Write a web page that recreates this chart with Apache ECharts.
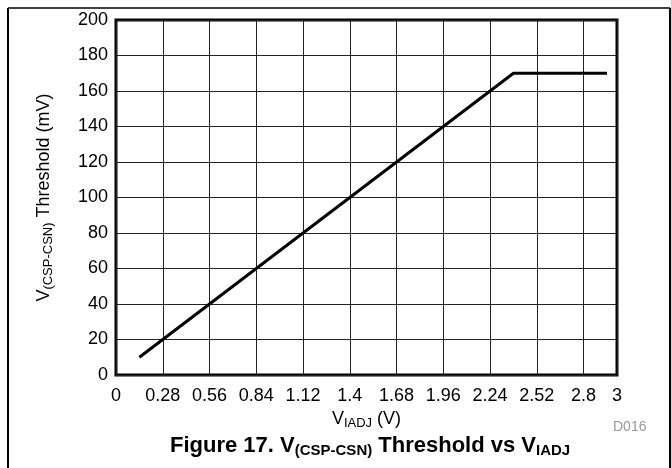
<!DOCTYPE html>
<html>
<head>
<meta charset="utf-8">
<script src="https://cdn.jsdelivr.net/npm/echarts@6/dist/echarts.min.js"></script>
<style>
  html, body { margin: 0; padding: 0; background: #fff; }
  #chart { width: 671px; height: 468px; }
</style>
</head>
<body>
<div id="chart"></div>
<script>
// threshold curve (V, mV)
var vIadj = [0.14, 2.38, 2.94];
var threshold = [10, 170, 170];

var xMin = 0, xMax = 3, xStep = 0.28;
var yMin = 0, yMax = 200, yStep = 20;

var points = vIadj.map(function (v, i) { return [v, threshold[i]]; });

var font = '"Liberation Sans", Arial, sans-serif';

var myChart = echarts.init(document.getElementById('chart'), null, { renderer: 'canvas' });

var option = {
    backgroundColor: '#fff',
    animation: false,
    grid: {
        left: 116, right: 54, top: 20, bottom: 93,
        show: true,
        borderColor: '#000',
        borderWidth: 3
    },
    xAxis: {
        type: 'value',
        min: xMin, max: xMax, interval: xStep,
        name: '{v|V}{s|IADJ}{v| (V)}',
        nameLocation: 'middle',
        nameGap: 32,
        nameTextStyle: {
            fontFamily: font, color: '#000',
            rich: {
                v: { fontSize: 18, fontFamily: font, color: '#000' },
                s: { fontSize: 13, fontFamily: font, color: '#000', padding: [9, 0, 0, 0] }
            }
        },
        axisLine: { show: false },
        axisTick: { show: false },
        axisLabel: { fontFamily: font, fontSize: 18, color: '#000', margin: 12 },
        splitLine: { show: true, lineStyle: { color: '#222', width: 1 } }
    },
    yAxis: {
        type: 'value',
        min: yMin, max: yMax, interval: yStep,
        name: '{v|V}{s|(CSP-CSN)}{v| Threshold (mV)}',
        nameLocation: 'middle',
        nameGap: 61,
        nameTextStyle: {
            fontFamily: font, color: '#000',
            rich: {
                v: { fontSize: 18, fontFamily: font, color: '#000' },
                s: { fontSize: 13, fontFamily: font, color: '#000', padding: [9, 0, 0, 0] }
            }
        },
        axisLine: { show: false },
        axisTick: { show: false },
        axisLabel: { fontFamily: font, fontSize: 18, color: '#000', margin: 8 },
        splitLine: { show: true, lineStyle: { color: '#222', width: 1 } }
    },
    series: [{
        type: 'line',
        data: points,
        showSymbol: false,
        lineStyle: { color: '#000', width: 3 },
        z: 5
    }],
    graphic: [
        // page frame
        { type: 'line', shape: { x1: 8, y1: 8, x2: 670, y2: 8 }, style: { stroke: '#000', lineWidth: 1.5 } },
        { type: 'line', shape: { x1: 8, y1: 8, x2: 8, y2: 468 }, style: { stroke: '#000', lineWidth: 2 } },
        { type: 'line', shape: { x1: 670, y1: 8, x2: 670, y2: 468 }, style: { stroke: '#000', lineWidth: 2 } },
        {
            type: 'text', left: 613, top: 420,
            style: { text: 'D016', fontFamily: font, fontSize: 14, fill: '#999' }
        },
        {
            type: 'text', left: 170, top: 435,
            style: {
                text: '{b|Figure 17. V}{bs|(CSP-CSN)}{b| Threshold vs V}{bs|IADJ}',
                fontFamily: font,
                rich: {
                    b: { fontSize: 22, fontWeight: 'bold', fontFamily: font, fill: '#000' },
                    bs: { fontSize: 15, fontWeight: 'bold', fontFamily: font, fill: '#000', padding: [10, 0, 0, 0] }
                }
            }
        }
    ]
};

myChart.setOption(option);
</script>
</body>
</html>
